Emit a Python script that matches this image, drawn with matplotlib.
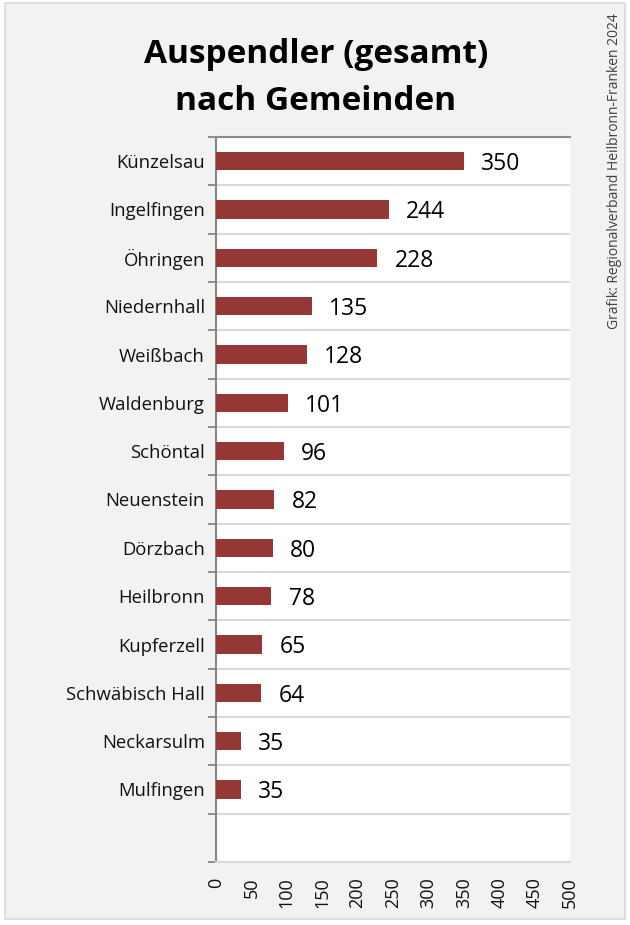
import matplotlib
matplotlib.use("Agg")
import matplotlib.pyplot as plt
from matplotlib.patches import Rectangle
import numpy as np

plt.rcParams['font.family'] = ['Open Sans', 'DejaVu Sans']

categories = ["Künzelsau", "Ingelfingen", "Öhringen", "Niedernhall", "Weißbach",
              "Waldenburg", "Schöntal", "Neuenstein", "Dörzbach", "Heilbronn",
              "Kupferzell", "Schwäbisch Hall", "Neckarsulm", "Mulfingen"]
values = [350, 244, 228, 135, 128, 101, 96, 82, 80, 78, 65, 64, 35, 35]
xticks = [0, 50, 100, 150, 200, 250, 300, 350, 400, 450, 500]
title_lines = ["Auspendler (gesamt)", "nach Gemeinden"]
credit = "Grafik: Regionalverband Heilbronn-Franken 2024"

W, H = 630, 925
fig = plt.figure(figsize=(W/100, H/100), dpi=100)
fig.patch.set_facecolor('white')

# grey panel
fig.patches.append(Rectangle((5/W, (H-919)/H), 620/W, 916/H, transform=fig.transFigure,
                             facecolor='#f2f2f2', edgecolor='#d9d9d9', linewidth=1.2, zorder=-10))

ax = fig.add_axes([216/W, (H-862)/H, 354/W, 725/H])
ax.set_zorder(2)
ax.set_facecolor('white')
n_slots = len(categories) + 1
y = np.arange(len(categories))
ax.barh(y, values, height=0.38, color='#953735', zorder=3)
ax.set_xlim(0, 500)
ax.set_ylim(n_slots - 0.5, -0.5)

ax.set_yticks(y)
ax.set_yticklabels(categories, fontsize=13.3, color='#111111')
ax.tick_params(axis='y', which='major', length=0, pad=8)
ax.set_yticks(np.arange(-0.5, n_slots, 1.0), minor=True)
ax.tick_params(axis='y', which='minor', length=6, width=1.3, color='#868686', direction='out')
ax.grid(axis='y', which='minor', color='#d9d9d9', linewidth=1.5, zorder=1)
ax.grid(axis='y', which='major', visible=False)

ax.set_xticks(xticks)
ax.set_xticklabels([str(t) for t in xticks], rotation=90, fontsize=13, color='#111111')
ax.tick_params(axis='x', length=0, pad=11)

ax.spines['right'].set_visible(False)
ax.spines['left'].set_color('#868686')
ax.spines['left'].set_linewidth(1.5)
ax.spines['top'].set_color('#8c8c8c')
ax.spines['top'].set_linewidth(1.5)
ax.spines['bottom'].set_color('#d9d9d9')
ax.spines['bottom'].set_linewidth(1.5)

for yi, v in zip(y, values):
    ax.annotate(str(v), (v, yi), xytext=(12.5, -2), textcoords='offset points',
                va='center', ha='left', fontsize=16.5, color='black')

fig.text(316/W, (H-63)/H, title_lines[0], ha='center', va='baseline',
         fontsize=24, fontweight='bold', color='black')
fig.text(316/W, (H-110)/H, title_lines[1], ha='center', va='baseline',
         fontsize=24, fontweight='bold', color='black')

fig.text(614/W, (H-171)/H, credit, rotation=90, ha='center', va='center',
         fontsize=10, color='#404040')

fig.savefig("out.png", dpi=100)
